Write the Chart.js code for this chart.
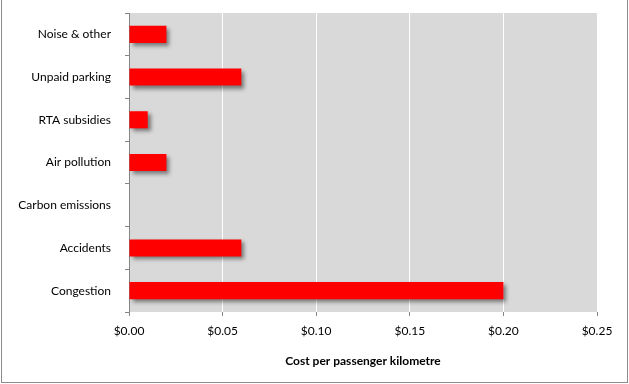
<!DOCTYPE html>
<html lang="en">
<head>
  <meta charset="UTF-8">
  <title>Cost per passenger kilometre</title>
  <script src="https://cdn.jsdelivr.net/npm/chart.js"></script>
  <style>
    body {
      margin: 0;
      background: white;
    }

    .wrap {
      position: relative;
      width: 629px;
      height: 384px;
    }

    .frame {
      position: absolute;
      left: 1px;
      top: 0;
      width: 625px;
      height: 382px;
      border: 1px solid #8c8c8c;
      border-top: none;
      pointer-events: none;
    }
  </style>
</head>
<body>
  <div class="wrap">
    <canvas id="costChart" width="629" height="384"></canvas>
    <div class="frame"></div>
  </div>

  <script>
    const categories = ['Noise & other', 'Unpaid parking', 'RTA subsidies', 'Air pollution', 'Carbon emissions', 'Accidents', 'Congestion'];
    const costs = [0.02, 0.06, 0.01, 0.02, 0, 0.06, 0.20];
    const xTicks = [0, 0.05, 0.10, 0.15, 0.20, 0.25];

    const fontFamily = 'Lato, "Open Sans", sans-serif';

    // grey plot area like the spreadsheet chart
    const plotBackground = {
      id: 'plotBackground',
      beforeDraw(chart) {
        const { ctx, chartArea: a } = chart;
        ctx.save();
        ctx.fillStyle = '#d9d9d9';
        ctx.fillRect(a.left, a.top, a.right - a.left, a.bottom - a.top);
        ctx.restore();
      }
    };

    // drop shadow behind the bars
    const barShadow = {
      id: 'barShadow',
      beforeDatasetsDraw(chart) {
        const ctx = chart.ctx;
        ctx.save();
        ctx.shadowColor = 'rgba(0, 0, 0, 0.45)';
        ctx.shadowBlur = 4;
        ctx.shadowOffsetX = 3;
        ctx.shadowOffsetY = 3;
      },
      afterDatasetsDraw(chart) {
        chart.ctx.restore();
      }
    };

    const ctx = document.getElementById('costChart').getContext('2d');

    new Chart(ctx, {
      type: 'bar',
      data: {
        labels: categories,
        datasets: [{
          data: costs,
          backgroundColor: '#ff0000',
          borderWidth: 0,
          barPercentage: 0.4,
          categoryPercentage: 1
        }]
      },
      plugins: [plotBackground, barShadow],
      options: {
        indexAxis: 'y',
        responsive: false,
        animation: false,
        layout: {
          padding: { left: 0, right: 32, top: 13, bottom: 0 }
        },
        plugins: {
          legend: { display: false },
          tooltip: { enabled: false }
        },
        scales: {
          x: {
            min: 0,
            max: 0.25,
            afterBuildTicks(axis) {
              axis.ticks = xTicks.map(v => ({ value: v }));
            },
            afterFit(axis) {
              axis.height = 72;
            },
            grid: {
              color: '#ffffff',
              tickColor: '#868686',
              tickLength: 4,
              lineWidth: 1
            },
            border: { display: false },
            ticks: {
              color: '#000000',
              padding: 8,
              font: { family: fontFamily, size: 12 },
              callback: v => '$' + Number(v).toFixed(2)
            },
            title: {
              display: true,
              text: 'Cost per passenger kilometre',
              color: '#000000',
              padding: { top: 8, bottom: 16 },
              font: { family: fontFamily, size: 12, weight: 'bold' }
            }
          },
          y: {
            afterFit(axis) {
              axis.width = 129;
              axis.paddingTop = 0;
              axis.paddingBottom = 0;
            },
            grid: {
              offset: true,
              drawOnChartArea: false,
              tickColor: '#868686',
              tickLength: 4
            },
            border: { display: true, color: '#868686', width: 1 },
            ticks: {
              color: '#000000',
              padding: 14,
              font: { family: fontFamily, size: 12 }
            }
          }
        }
      }
    });
  </script>
</body>
</html>
